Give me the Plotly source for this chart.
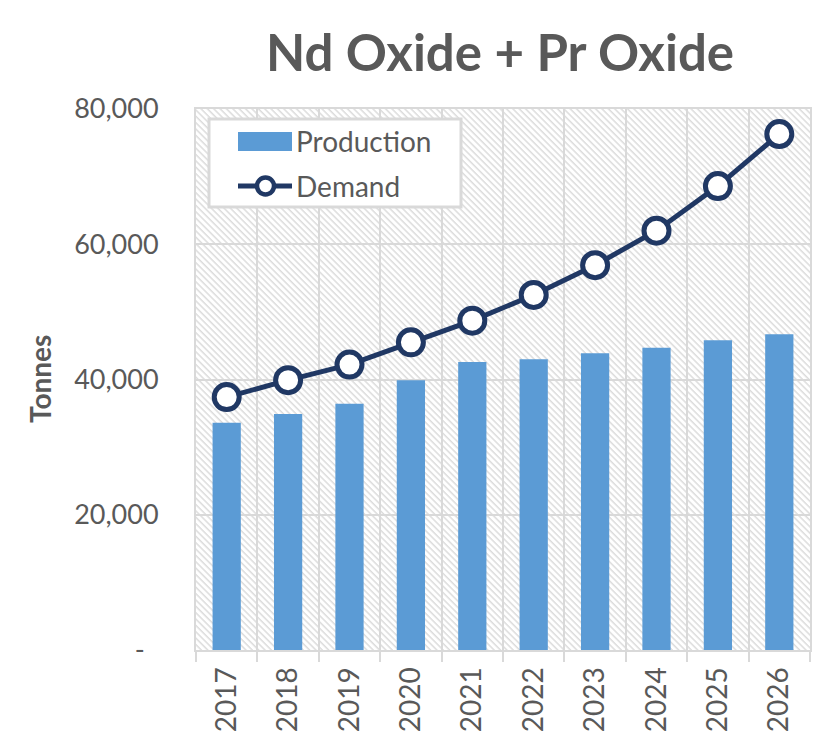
import base64
import plotly.graph_objects as go

years = ["2017", "2018", "2019", "2020", "2021", "2022", "2023", "2024", "2025", "2026"]
production = [33600, 34900, 36400, 39900, 42600, 43000, 43900, 44700, 45800, 46700]
demand = [37400, 39900, 42200, 45500, 48700, 52500, 56900, 62000, 68600, 76300]
y_tickvals = [0, 20000, 40000, 60000, 80000]
y_ticktext = ["-\u00a0\u00a0", "20,000", "40,000", "60,000", "80,000"]

W, H = 835, 745
OFF = 8  # default page body margin
L, R, T, B = 196, 810, 109, 650  # target plot area on screen
PW, PH = R - L, B - T

TEXT = "#595959"
GRID = "#D9D9D9"
BAR = "#5B9BD5"
LINE = "#203864"
FONT = "Lato"

def px(x):
    return (x - L) / PW

def py(y):
    return (B - y) / PH

# hatched plot-area background
svg = (
    f'<svg xmlns="http://www.w3.org/2000/svg" width="{PW}" height="{PH}" viewBox="0 0 {PW} {PH}" preserveAspectRatio="none">'
    '<defs><pattern id="h" width="4.5" height="4.5" patternUnits="userSpaceOnUse" patternTransform="rotate(45)">'
    '<rect x="0" y="0" width="4.5" height="1.5" fill="#DCDCDC"/></pattern></defs>'
    f'<rect x="0" y="0" width="{PW}" height="{PH}" fill="white"/>'
    f'<rect x="0" y="0" width="{PW}" height="{PH}" fill="url(#h)"/></svg>'
)
src = "data:image/svg+xml;base64," + base64.b64encode(svg.encode()).decode()

fig = go.Figure()
fig.add_trace(go.Bar(x=years, y=production, name="Production", marker_color=BAR,
                     marker_line_width=0, width=0.46, showlegend=False))
fig.add_trace(go.Scatter(x=years, y=demand, name="Demand", mode="lines+markers",
                         line=dict(color=LINE, width=5),
                         marker=dict(size=25, color="white", line=dict(color=LINE, width=5)),
                         showlegend=False))

shapes = [
    dict(type="rect", xref="paper", yref="paper", x0=px(209), x1=px(461), y0=py(207), y1=py(119),
         fillcolor="white", line=dict(color=GRID, width=3), layer="above"),
    dict(type="rect", xref="paper", yref="paper", x0=px(238), x1=px(292), y0=py(151), y1=py(132),
         fillcolor=BAR, line=dict(width=0), layer="above"),
    dict(type="line", xref="paper", yref="paper", x0=px(238), x1=px(292), y0=py(186), y1=py(186),
         line=dict(color=LINE, width=5), layer="above"),
    dict(type="circle", xref="paper", yref="paper", x0=px(257), x1=px(274), y0=py(194.5), y1=py(177.5),
         fillcolor="white", line=dict(color=LINE, width=4.5), layer="above"),
]

annotations = [
    dict(text="Production", xref="paper", yref="paper", x=px(294), y=py(141), xanchor="left",
         yanchor="middle", showarrow=False, font=dict(family=FONT, size=28, color=TEXT)),
    dict(text="Demand", xref="paper", yref="paper", x=px(294), y=py(186), xanchor="left",
         yanchor="middle", showarrow=False, font=dict(family=FONT, size=28, color=TEXT)),
    dict(text="<b>Tonnes</b>", xref="paper", yref="paper", x=px(40), y=py(379), xanchor="center",
         yanchor="middle", textangle=-90, showarrow=False, font=dict(family=FONT, size=28, color=TEXT)),
]

fig.update_layout(
    width=W, height=H,
    margin=dict(l=L - OFF, r=W - (R - OFF), t=T - OFF, b=H - (B - OFF), pad=0, autoexpand=False),
    paper_bgcolor="white",
    plot_bgcolor="rgba(0,0,0,0)",
    title=dict(text="<b>Nd Oxide + Pr Oxide</b>", x=(500 - OFF) / W, xanchor="center",
               y=1 - (53 - OFF) / H, yanchor="middle", yref="container",
               font=dict(family=FONT, size=51, color=TEXT)),
    font=dict(family=FONT, color=TEXT),
    images=[dict(source=src, xref="paper", yref="paper", x=0, y=1, sizex=1, sizey=1,
                 xanchor="left", yanchor="top", sizing="stretch", layer="below")],
    shapes=shapes,
    annotations=annotations,
    xaxis=dict(type="category", range=[-0.5, len(years) - 0.5], automargin=False,
               tickangle=-90, tickson="boundaries", ticks="outside",
               ticklen=10, tickwidth=2, tickcolor=GRID, showgrid=True, gridcolor=GRID,
               gridwidth=2, showline=True, linecolor=GRID, linewidth=2, mirror=True,
               ticklabelstandoff=4,
               tickfont=dict(family=FONT, size=28, color=TEXT)),
    yaxis=dict(range=[0, 80000], automargin=False, tickvals=y_tickvals, ticktext=y_ticktext,
               showgrid=True, gridcolor=GRID, gridwidth=2, zeroline=False, showline=True,
               linecolor=GRID, linewidth=2, mirror=True, ticks="", ticklabelstandoff=30,
               tickfont=dict(family=FONT, size=27, color=TEXT)),
)

fig.write_html("out.html")
